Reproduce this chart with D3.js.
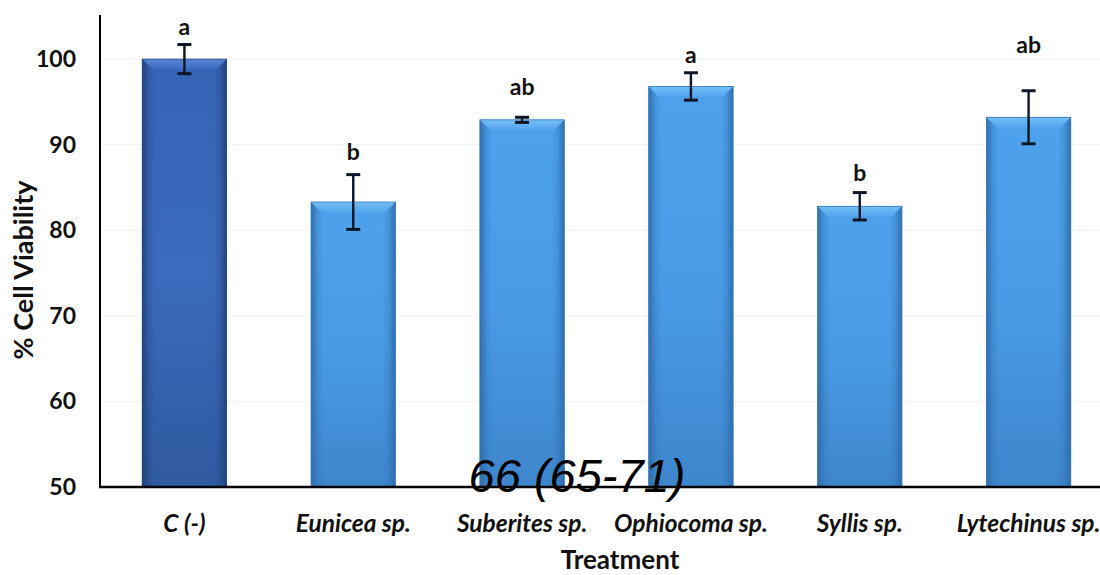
<!DOCTYPE html>
<html><head><meta charset="utf-8">
<script src="https://cdn.jsdelivr.net/npm/d3@7"></script>
<style>body{margin:0;background:#fff;}</style>
</head><body><svg id="c" width="1100" height="575"></svg>
<script>
const categories = ["C (-)", "Eunicea sp.", "Suberites sp.", "Ophiocoma sp.", "Syllis sp.", "Lytechinus sp."];
const viability = [100, 83.3, 92.9, 96.8, 82.8, 93.2];
const errors = [1.7, 3.2, 0.3, 1.6, 1.6, 3.1];
const letters = ["a", "b", "ab", "a", "b", "ab"];
const letterLevel = [103.7, 89.2, 96.8, 100.5, 86.7, 101.6];
const yTicks = [50, 60, 70, 80, 90, 100];
const overlayText = "66 (65-71)";

const FONT = "Lato, 'Open Sans', sans-serif";
const svg = d3.select("#c");
const x = d3.scaleBand().domain(categories).range([100, 1113]).paddingInner(0.5).paddingOuter(0.25);
const y = d3.scaleLinear().domain([50, 105.5]).range([487, 12]);

const defs = svg.append("defs");
function grads(id, top, mid, bot, edge, bevTop, bevBot) {
  const v = defs.append("linearGradient").attr("id", id + "v").attr("x1", 0).attr("y1", 0).attr("x2", 0).attr("y2", 1);
  v.append("stop").attr("offset", "0%").attr("stop-color", top);
  v.append("stop").attr("offset", "50%").attr("stop-color", mid);
  v.append("stop").attr("offset", "100%").attr("stop-color", bot);
  const h = defs.append("linearGradient").attr("id", id + "h").attr("x1", 0).attr("y1", 0).attr("x2", 1).attr("y2", 0);
  h.append("stop").attr("offset", "0%").attr("stop-color", edge).attr("stop-opacity", 0.9);
  h.append("stop").attr("offset", "8%").attr("stop-color", edge).attr("stop-opacity", 0.25);
  h.append("stop").attr("offset", "15%").attr("stop-color", edge).attr("stop-opacity", 0);
  h.append("stop").attr("offset", "85%").attr("stop-color", edge).attr("stop-opacity", 0);
  h.append("stop").attr("offset", "92%").attr("stop-color", edge).attr("stop-opacity", 0.25);
  h.append("stop").attr("offset", "100%").attr("stop-color", edge).attr("stop-opacity", 0.9);
  const b = defs.append("linearGradient").attr("id", id + "b").attr("x1", 0).attr("y1", 0).attr("x2", 0).attr("y2", 1);
  b.append("stop").attr("offset", "0%").attr("stop-color", bevTop);
  b.append("stop").attr("offset", "100%").attr("stop-color", bevBot);
}
grads("dk", "#3563b5", "#3b6bbd", "#2f5a9f", "#1f3f75", "#5784d4", "#3d6dbf");
grads("lt", "#4ea2ec", "#4a9be6", "#3e86cc", "#2c6aa8", "#74bdf6", "#55a6ee");

// grid
svg.append("g").selectAll("line").data(yTicks.filter(d => d > 50)).join("line")
  .attr("x1", 101).attr("x2", 1100).attr("y1", d => y(d)).attr("y2", d => y(d))
  .attr("stroke", "#f1f1f1").attr("stroke-width", 1);

// bars
const bars = svg.append("g").selectAll("g").data(categories).join("g");
bars.append("rect")
  .attr("x", d => x(d)).attr("width", x.bandwidth())
  .attr("y", (d, i) => y(viability[i])).attr("height", (d, i) => y(50) - y(viability[i]))
  .attr("fill", (d, i) => i === 0 ? "url(#dkv)" : "url(#ltv)");
bars.append("rect")
  .attr("x", d => x(d)).attr("width", x.bandwidth())
  .attr("y", (d, i) => y(viability[i])).attr("height", (d, i) => y(50) - y(viability[i]))
  .attr("fill", (d, i) => i === 0 ? "url(#dkh)" : "url(#lth)");
bars.append("path")
  .attr("d", (d, i) => {
    const x0 = x(d), x1 = x(d) + x.bandwidth(), t = y(viability[i]), bv = 10;
    return `M${x0},${t}L${x1},${t}L${x1 - bv},${t + bv}L${x0 + bv},${t + bv}Z`;
  })
  .attr("fill", (d, i) => i === 0 ? "url(#dkb)" : "url(#ltb)");
bars.append("rect")
  .attr("x", d => x(d)).attr("width", x.bandwidth())
  .attr("y", (d, i) => y(viability[i])).attr("height", (d, i) => y(50) - y(viability[i]))
  .attr("fill", "none").attr("stroke", (d, i) => i === 0 ? "#25467f" : "#3577b8").attr("stroke-width", 0.8);

// error bars
const eb = svg.append("g").attr("stroke", "#0c1626").attr("stroke-width", 2.4);
categories.forEach((c, i) => {
  const cx = x(c) + x.bandwidth() / 2;
  const hi = y(viability[i] + errors[i]), lo = y(viability[i] - errors[i]);
  eb.append("line").attr("x1", cx).attr("x2", cx).attr("y1", hi).attr("y2", lo);
  eb.append("line").attr("x1", cx - 7).attr("x2", cx + 7).attr("y1", hi).attr("y2", hi).attr("stroke-width", 3);
  eb.append("line").attr("x1", cx - 7).attr("x2", cx + 7).attr("y1", lo).attr("y2", lo).attr("stroke-width", 3);
});

// letters
svg.append("g").selectAll("text").data(letters).join("text")
  .attr("x", (d, i) => x(categories[i]) + x.bandwidth() / 2)
  .attr("y", (d, i) => y(letterLevel[i]))
  .attr("dy", "0.35em").attr("text-anchor", "middle")
  .style("font-family", FONT).attr("font-size", 23).attr("font-weight", "bold").attr("fill", "#111")
  .text(d => d);

// axes
const yAxis = svg.append("g").attr("transform", "translate(100,0)")
  .call(d3.axisLeft(y).tickValues(yTicks).tickSize(0).tickPadding(24));
yAxis.select(".domain").remove();
yAxis.selectAll("text").attr("font-size", 23).attr("font-weight", "bold").attr("fill", "#111")
  .style("font-family", FONT);
svg.append("line").attr("x1", 100).attr("x2", 100).attr("y1", 15).attr("y2", 488).attr("stroke", "#000").attr("stroke-width", 2);

const xAxis = svg.append("g").attr("transform", "translate(0,487)")
  .call(d3.axisBottom(x).tickSize(0).tickPadding(28));
xAxis.select(".domain").remove();
xAxis.selectAll("text").attr("font-size", 24.5).attr("font-weight", "bold").attr("font-style", "italic")
  .attr("fill", "#111").style("font-family", FONT);
svg.append("line").attr("x1", 99).attr("x2", 1100).attr("y1", 487).attr("y2", 487).attr("stroke", "#000").attr("stroke-width", 2.5);

// axis titles
svg.append("text").attr("transform", "translate(33,270) rotate(-90)").attr("text-anchor", "middle")
  .style("font-family", FONT).attr("font-size", 27).attr("font-weight", "bold").attr("fill", "#111").text("% Cell Viability");
svg.append("text").attr("x", 620).attr("y", 569).attr("text-anchor", "middle")
  .style("font-family", FONT).attr("font-size", 26).attr("font-weight", "bold").attr("fill", "#111").text("Treatment");

// overlay
svg.append("text").attr("x", 577).attr("y", 492).attr("text-anchor", "middle")
  .style("font-family", "'Liberation Sans', Arial, sans-serif").attr("font-style", "italic")
  .attr("font-size", 47).attr("fill", "#000").text(overlayText);
</script></body></html>
